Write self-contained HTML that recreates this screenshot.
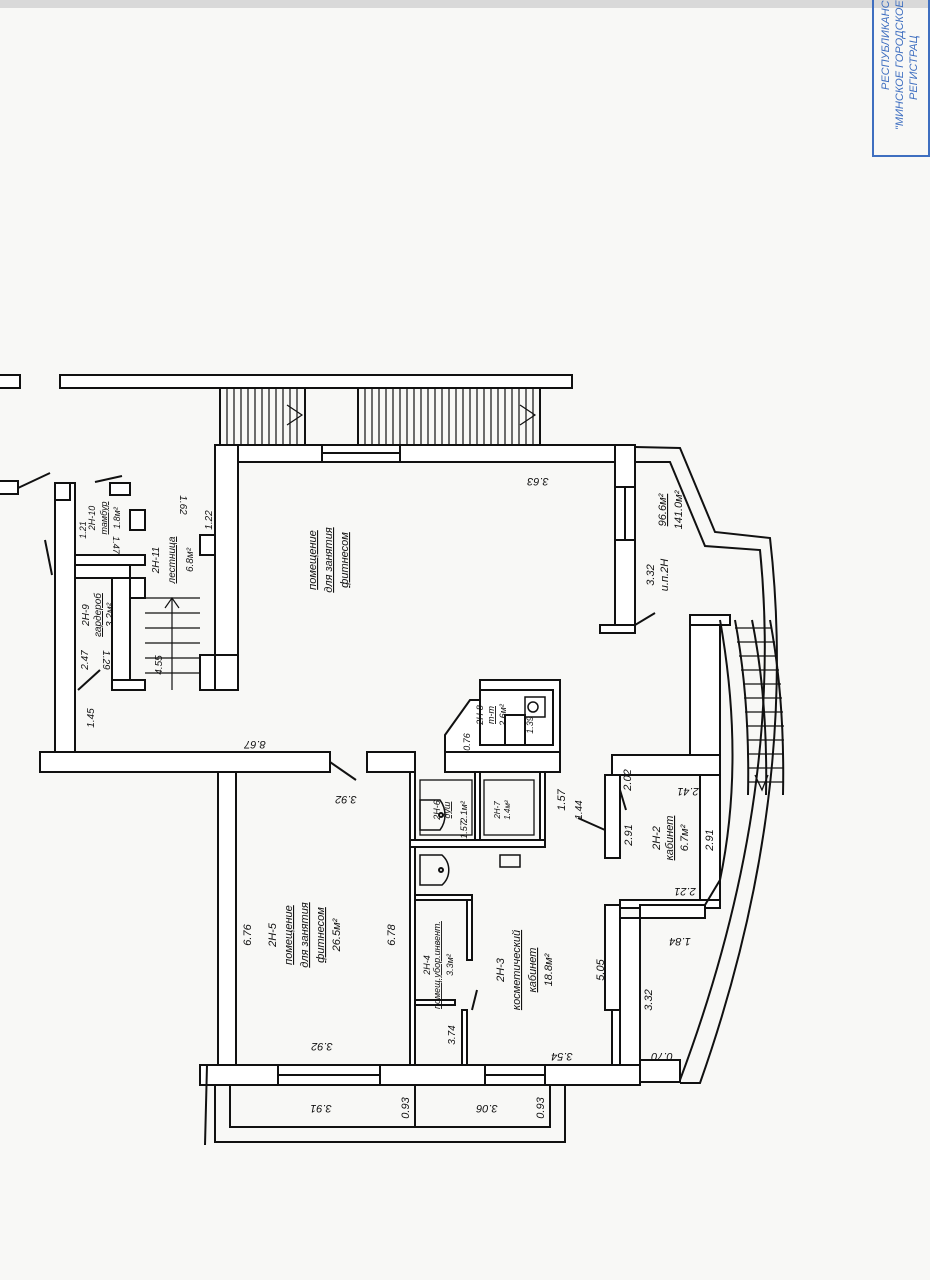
<!DOCTYPE html>
<html><head><meta charset="utf-8"><style>
html,body{margin:0;padding:0;background:#f8f8f6;}
svg{display:block}
text{font-family:"Liberation Sans",sans-serif;font-style:italic;fill:#111}
</style></head><body>
<svg width="930" height="1280" viewBox="0 0 930 1280" xmlns="http://www.w3.org/2000/svg">
<rect x="0" y="0" width="930" height="1280" fill="#f8f8f6"/>
<rect x="0" y="0" width="930" height="8" fill="#d9d9d9"/>
<!-- stamp -->
<rect x="873" y="-2" width="56" height="158" fill="none" stroke="#3f6fc0" stroke-width="2"/>
<g fill="#3f6fc0" font-size="11">
<text x="889" y="90" transform="rotate(-90 889 90)" text-anchor="start" style="fill:#3f6fc0">РЕСПУБЛИКАНС</text>
<text x="903" y="130" transform="rotate(-90 903 130)" style="fill:#3f6fc0">"МИНСКОЕ ГОРОДСКОЕ</text>
<text x="917" y="100" transform="rotate(-90 917 100)" style="fill:#3f6fc0">РЕГИСТРАЦ</text>
</g>
<g fill="#fff" stroke="#111" stroke-width="2">
<rect x="60" y="375" width="512" height="13"/>
<rect x="-2" y="375" width="22" height="13"/>
<rect x="-2" y="481" width="20" height="13"/>
<rect x="220" y="388" width="85" height="57" fill="none"/>
<rect x="358" y="388" width="182" height="57" fill="none"/>
<rect x="215" y="445" width="420" height="17"/>
<rect x="215" y="445" width="23" height="245"/>
<rect x="200" y="655" width="38" height="35"/>
<rect x="615" y="445" width="20" height="185"/>
<rect x="600" y="625" width="35" height="8"/>
<rect x="55" y="483" width="20" height="272"/>
<rect x="55" y="483" width="15" height="17"/>
<rect x="110" y="483" width="20" height="12"/>
<rect x="130" y="510" width="15" height="20"/>
<rect x="75" y="555" width="70" height="10"/>
<rect x="75" y="565" width="55" height="13"/>
<rect x="112" y="578" width="18" height="112"/>
<rect x="130" y="578" width="15" height="20"/>
<rect x="200" y="535" width="15" height="20"/>
<rect x="200" y="655" width="15" height="35"/>
<rect x="112" y="680" width="33" height="10"/>
<rect x="40" y="752" width="290" height="20"/>
<rect x="367" y="752" width="48" height="20"/>
<rect x="445" y="752" width="115" height="20"/>
<rect x="612" y="755" width="108" height="20"/>
<polygon points="480,680 560,680 560,752 445,752 445,735 470,700 480,700"/>
<rect x="480" y="690" width="73" height="55" fill="#fff"/>
<rect x="505" y="715" width="20" height="30"/>
<rect x="218" y="772" width="18" height="293"/>
<rect x="410" y="772" width="5" height="293"/>
<rect x="410" y="840" width="135" height="7"/>
<rect x="475" y="772" width="5" height="68"/>
<rect x="540" y="772" width="5" height="68"/>
<rect x="415" y="895" width="57" height="5"/>
<rect x="467" y="900" width="5" height="60"/>
<rect x="415" y="1000" width="40" height="5"/>
<rect x="462" y="1010" width="5" height="55"/>
<rect x="605" y="775" width="15" height="83"/>
<rect x="605" y="905" width="15" height="105"/>
<rect x="620" y="900" width="100" height="8"/>
<rect x="620" y="918" width="20" height="148"/>
<rect x="700" y="775" width="20" height="125"/>
<rect x="690" y="615" width="30" height="140"/>
<rect x="690" y="615" width="40" height="10"/>
<rect x="200" y="1065" width="440" height="20"/>
<rect x="640" y="1060" width="40" height="22"/>
<rect x="215" y="1085" width="350" height="57" fill="none"/>
<rect x="230" y="1085" width="185" height="42" fill="none"/>
<rect x="415" y="1085" width="135" height="42" fill="none"/>
</g>
<g stroke="#111" stroke-width="2" fill="none">
<rect x="322" y="445" width="78" height="17" fill="#fff"/>
<line x1="322" y1="453" x2="400" y2="453"/>
<rect x="615" y="487" width="20" height="53" fill="#fff"/>
<line x1="625" y1="487" x2="625" y2="540"/>
<rect x="278" y="1065" width="102" height="20" fill="#fff"/><line x1="278" y1="1075" x2="380" y2="1075"/>
<rect x="485" y="1065" width="60" height="20" fill="#fff"/><line x1="485" y1="1075" x2="545" y2="1075"/>
<rect x="640" y="905" width="65" height="13" fill="#fff"/>
<rect x="612" y="1010" width="8" height="55" fill="#fff"/>
<path d="M635 447 L680 448 L715 532 L770 538 Q800 800 700 1083 L680 1083"/>
<path d="M635 462 L670 462 L705 546 L760 550 Q785 800 680 1080"/>
<path d="M720 620 Q745 760 720 880 L705 905"/>
<path d="M735 620 Q750 700 748 795"/>
<path d="M752 620 Q768 700 766 795"/>
<path d="M770 620 Q785 700 783 795"/>
<g stroke-width="1.3">
<line x1="735" y1="628" x2="772" y2="628"/><line x1="737" y1="642" x2="775" y2="642"/>
<line x1="739" y1="656" x2="777" y2="656"/><line x1="741" y1="670" x2="779" y2="670"/>
<line x1="743" y1="684" x2="781" y2="684"/><line x1="744" y1="698" x2="782" y2="698"/>
<line x1="745" y1="712" x2="783" y2="712"/><line x1="746" y1="726" x2="784" y2="726"/>
<line x1="747" y1="740" x2="784" y2="740"/><line x1="747" y1="754" x2="784" y2="754"/>
<line x1="748" y1="768" x2="784" y2="768"/><line x1="748" y1="782" x2="784" y2="782"/>
<polyline points="755,775 762,790 768,775"/>
</g>
<g stroke-width="1.2">
<path d="M227 388V445M234 388V445M241 388V445M248 388V445M255 388V445M262 388V445M269 388V445M276 388V445M283 388V445M290 388V445M297 388V445"/>
<path d="M365 388V445M372 388V445M379 388V445M386 388V445M393 388V445M400 388V445M407 388V445M414 388V445M421 388V445M428 388V445M435 388V445M442 388V445M449 388V445M456 388V445M463 388V445M470 388V445M477 388V445M484 388V445M491 388V445M498 388V445M505 388V445M512 388V445M519 388V445M526 388V445M533 388V445"/>
<polyline points="287,405 302,415 287,425"/>
<polyline points="520,405 535,415 520,425"/>
<path d="M145 598H200M145 613H200M145 628H200M145 643H200M145 658H200M145 673H200M172 598V690"/>
<polyline points="165,608 172,598 179,608"/>
</g>
<line x1="18" y1="488" x2="50" y2="473"/>
<line x1="95" y1="482" x2="122" y2="476"/>
<line x1="45" y1="540" x2="52" y2="575"/>
<line x1="78" y1="690" x2="100" y2="670"/>
<line x1="330" y1="762" x2="356" y2="780"/>
<line x1="635" y1="625" x2="655" y2="613"/>
<line x1="605" y1="830" x2="578" y2="818"/>
<line x1="620" y1="790" x2="626" y2="810"/>
<line x1="207" y1="1065" x2="205" y2="1145"/>
<line x1="472" y1="1010" x2="477" y2="990"/>
<path d="M420 800 H440 A25 25 0 0 1 440 830 H420 Z" stroke-width="1.5"/>
<path d="M420 855 H442 A20 20 0 0 1 442 885 H420 Z" stroke-width="1.5"/>
<circle cx="441" cy="815" r="2"/><circle cx="441" cy="870" r="2"/>
<rect x="500" y="855" width="20" height="12" stroke-width="1.5"/>
<rect x="525" y="697" width="20" height="20" stroke-width="1.5"/>
<circle cx="533" cy="707" r="5" stroke-width="1.5"/>
<rect x="484" y="780" width="50" height="55" stroke-width="1.3"/>
<rect x="420" y="780" width="52" height="55" stroke-width="1.3"/>
</g>
<g font-size="11">
<g text-anchor="middle">
<text x="316" y="560" transform="rotate(-90 316 560)"><tspan text-decoration="underline">помещение</tspan></text>
<text x="332" y="560" transform="rotate(-90 332 560)"><tspan text-decoration="underline">для занятия</tspan></text>
<text x="348" y="560" transform="rotate(-90 348 560)"><tspan text-decoration="underline">фитнесом</tspan></text>
<text x="538" y="478" transform="rotate(180 538 478)">3.63</text>
<text x="159" y="560" transform="rotate(-90 159 560)" font-size="10">2Н-11</text>
<text x="175" y="560" transform="rotate(-90 175 560)" font-size="10" text-decoration="underline">лестница</text>
<text x="193" y="560" transform="rotate(-90 193 560)" font-size="10">6.8м²</text>
<text x="180" y="505" transform="rotate(90 180 505)" font-size="10">1.62</text>
<text x="212" y="520" transform="rotate(-90 212 520)" font-size="10">1.22</text>
<text x="95" y="518" transform="rotate(-90 95 518)" font-size="9">2Н-10</text>
<text x="107" y="518" transform="rotate(-90 107 518)" font-size="9" text-decoration="underline">тамбур</text>
<text x="120" y="518" transform="rotate(-90 120 518)" font-size="9">1.8м²</text>
<text x="86" y="530" transform="rotate(-90 86 530)" font-size="9">1.21</text>
<text x="113" y="545" transform="rotate(90 113 545)" font-size="9">1.47</text>
<text x="89" y="615" transform="rotate(-90 89 615)" font-size="10">2Н-9</text>
<text x="101" y="615" transform="rotate(-90 101 615)" font-size="10" text-decoration="underline">гардероб</text>
<text x="113" y="615" transform="rotate(-90 113 615)" font-size="10">3.2м²</text>
<text x="88" y="660" transform="rotate(-90 88 660)" font-size="10">2.47</text>
<text x="103" y="660" transform="rotate(90 103 660)" font-size="10">1.29</text>
<text x="162" y="665" transform="rotate(-90 162 665)" font-size="10">4.55</text>
<text x="94" y="718" transform="rotate(-90 94 718)" font-size="10">1.45</text>
<text x="255" y="741" transform="rotate(180 255 741)">8.67</text>
<text x="346" y="796" transform="rotate(180 346 796)">3.92</text>
<text x="251" y="935" transform="rotate(-90 251 935)">6.76</text>
<text x="276" y="935" transform="rotate(-90 276 935)">2Н-5</text>
<text x="292" y="935" transform="rotate(-90 292 935)" text-decoration="underline">помещение</text>
<text x="308" y="935" transform="rotate(-90 308 935)" text-decoration="underline">для занятия</text>
<text x="324" y="935" transform="rotate(-90 324 935)" text-decoration="underline">фитнесом</text>
<text x="340" y="935" transform="rotate(-90 340 935)">26.5м²</text>
<text x="395" y="935" transform="rotate(-90 395 935)">6.78</text>
<text x="322" y="1043" transform="rotate(180 322 1043)">3.92</text>
<text x="430" y="965" transform="rotate(-90 430 965)" font-size="9">2Н-4</text>
<text x="440" y="965" transform="rotate(-90 440 965)" font-size="9" text-decoration="underline">помещ.убор.инвент.</text>
<text x="453" y="965" transform="rotate(-90 453 965)" font-size="9">3.3м²</text>
<text x="455" y="1035" transform="rotate(-90 455 1035)" font-size="10">3.74</text>
<text x="504" y="970" transform="rotate(-90 504 970)">2Н-3</text>
<text x="520" y="970" transform="rotate(-90 520 970)" text-decoration="underline">косметический</text>
<text x="536" y="970" transform="rotate(-90 536 970)" text-decoration="underline">кабинет</text>
<text x="552" y="970" transform="rotate(-90 552 970)">18.8м²</text>
<text x="604" y="970" transform="rotate(-90 604 970)">5.05</text>
<text x="562" y="1053" transform="rotate(180 562 1053)">3.54</text>
<text x="652" y="1000" transform="rotate(-90 652 1000)">3.32</text>
<text x="662" y="1053" transform="rotate(180 662 1053)">0.70</text>
<text x="680" y="938" transform="rotate(180 680 938)">1.84</text>
<text x="632" y="835" transform="rotate(-90 632 835)">2.91</text>
<text x="660" y="838" transform="rotate(-90 660 838)">2Н-2</text>
<text x="673" y="838" transform="rotate(-90 673 838)" text-decoration="underline">кабинет</text>
<text x="688" y="838" transform="rotate(-90 688 838)">6.7м²</text>
<text x="713" y="840" transform="rotate(-90 713 840)">2.91</text>
<text x="688" y="788" transform="rotate(180 688 788)">2.41</text>
<text x="685" y="888" transform="rotate(180 685 888)">2.21</text>
<text x="631" y="780" transform="rotate(-90 631 780)">2.02</text>
<text x="582" y="810" transform="rotate(-90 582 810)" font-size="10">1.44</text>
<text x="565" y="800" transform="rotate(-90 565 800)">1.57</text>
<text x="440" y="810" transform="rotate(-90 440 810)" font-size="9">2Н-6</text>
<text x="450" y="810" transform="rotate(-90 450 810)" font-size="9" text-decoration="underline">душ</text>
<text x="467" y="812" transform="rotate(-90 467 812)" font-size="9">2.1м²</text>
<text x="467" y="830" transform="rotate(-90 467 830)" font-size="9">1.57</text>
<text x="500" y="810" transform="rotate(-90 500 810)" font-size="8">2Н-7</text>
<text x="510" y="810" transform="rotate(-90 510 810)" font-size="8">1.4м²</text>
<text x="483" y="715" transform="rotate(-90 483 715)" font-size="9">2Н-8</text>
<text x="494" y="715" transform="rotate(-90 494 715)" font-size="9" text-decoration="underline">т-т</text>
<text x="506" y="715" transform="rotate(-90 506 715)" font-size="9">2.6м²</text>
<text x="533" y="725" transform="rotate(-90 533 725)" font-size="9">1.39</text>
<text x="470" y="742" transform="rotate(-90 470 742)" font-size="9">0.76</text>
<text x="654" y="575" transform="rotate(-90 654 575)">3.32</text>
<text x="668" y="575" transform="rotate(-90 668 575)">и.п.2Н</text>
<text x="666" y="510" transform="rotate(-90 666 510)" text-decoration="underline">96.6м²</text>
<text x="682" y="510" transform="rotate(-90 682 510)">141.0м²</text>
<text x="321" y="1105" transform="rotate(180 321 1105)">3.91</text>
<text x="409" y="1108" transform="rotate(-90 409 1108)">0.93</text>
<text x="487" y="1105" transform="rotate(180 487 1105)">3.06</text>
<text x="544" y="1108" transform="rotate(-90 544 1108)">0.93</text>
</g>
</g>
</svg>
</body></html>
